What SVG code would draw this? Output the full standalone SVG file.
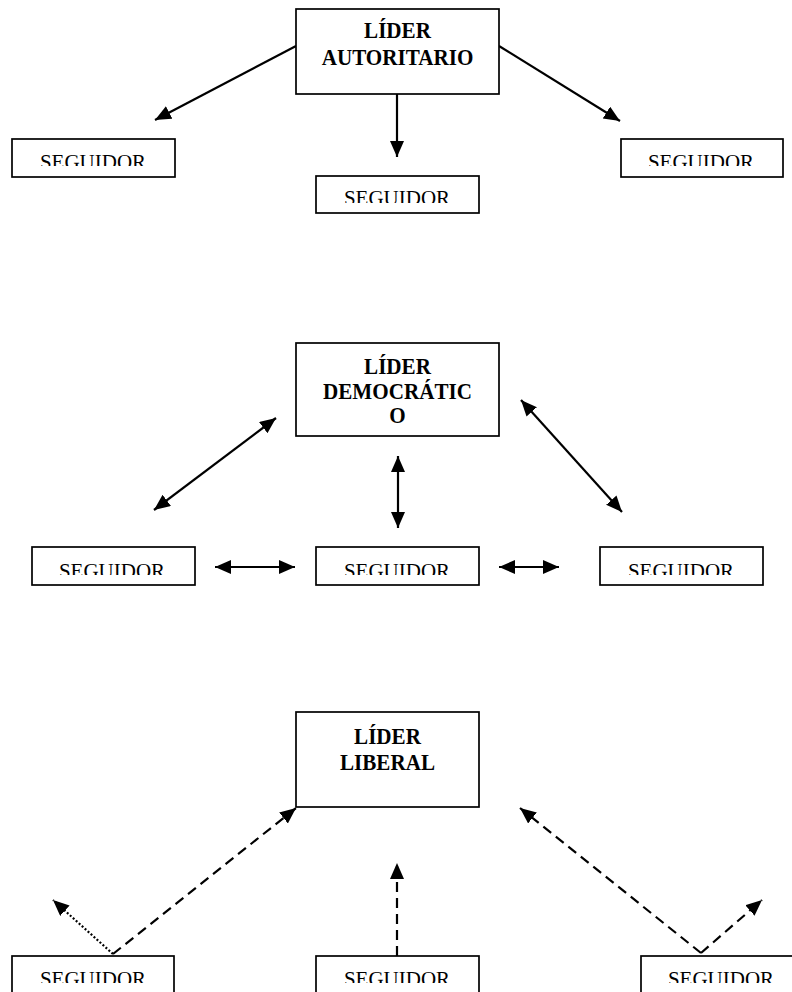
<svg xmlns="http://www.w3.org/2000/svg" width="792" height="992" viewBox="0 0 792 992">
<style>
.box{fill:#fff;stroke:#000;stroke-width:1.7}
.lead{font-family:"Liberation Serif",serif;font-weight:bold;font-size:22px;text-anchor:middle;fill:#000}
.seg{font-family:"Liberation Serif",serif;font-size:21px;text-anchor:middle;fill:#000}
.ln{stroke:#000;stroke-width:2.2;fill:none}
.dash{stroke-dasharray:10 6}
.dot{stroke-dasharray:2 2}
</style>
<defs>
<marker id="ah" markerUnits="userSpaceOnUse" markerWidth="17" markerHeight="15" refX="16" refY="7" orient="auto-start-reverse" viewBox="0 0 17 15">
<path d="M0,0 L16,7 L0,14 z" fill="#000"/>
</marker>
<clipPath id="c1"><rect x="12" y="139" width="163" height="27"/></clipPath>
<clipPath id="c2"><rect x="316" y="176" width="163" height="27"/></clipPath>
<clipPath id="c3"><rect x="621" y="139" width="162" height="27"/></clipPath>
<clipPath id="c4"><rect x="32" y="547" width="163" height="28"/></clipPath>
<clipPath id="c5"><rect x="316" y="547" width="163" height="28"/></clipPath>
<clipPath id="c6"><rect x="600" y="547" width="163" height="28"/></clipPath>
<clipPath id="c7"><rect x="12" y="956" width="162" height="27"/></clipPath>
<clipPath id="c8"><rect x="316" y="956" width="163" height="27"/></clipPath>
<clipPath id="c9"><rect x="641" y="956" width="163" height="27"/></clipPath>
</defs>
<rect width="792" height="992" fill="#fff"/>

<g id="connectors">
<line class="ln" x1="296" y1="46" x2="155" y2="120" marker-end="url(#ah)"/>
<line class="ln" x1="499" y1="46" x2="620" y2="121" marker-end="url(#ah)"/>
<line class="ln" x1="397" y1="83" x2="397" y2="157" marker-end="url(#ah)"/>

<line class="ln" x1="154" y1="510" x2="276" y2="418" marker-start="url(#ah)" marker-end="url(#ah)"/>
<line class="ln" x1="398" y1="456" x2="398" y2="528" marker-start="url(#ah)" marker-end="url(#ah)"/>
<line class="ln" x1="521" y1="400" x2="622" y2="512" marker-start="url(#ah)" marker-end="url(#ah)"/>
<line class="ln" x1="215" y1="567" x2="295" y2="567" marker-start="url(#ah)" marker-end="url(#ah)"/>
<line class="ln" x1="499" y1="567" x2="559" y2="567" marker-start="url(#ah)" marker-end="url(#ah)"/>

<line class="ln dash" x1="113" y1="954" x2="296" y2="808" marker-end="url(#ah)"/>
<line class="ln dot" x1="113" y1="954" x2="53" y2="900" marker-end="url(#ah)"/>
<line class="ln dash" x1="397" y1="956" x2="397" y2="863" marker-end="url(#ah)"/>
<line class="ln dash" x1="701" y1="953" x2="520" y2="808" marker-end="url(#ah)"/>
<line class="ln dash" x1="701" y1="953" x2="762" y2="900" marker-end="url(#ah)"/>
</g>

<g id="lider-autoritario">
<rect class="box" x="296" y="9" width="203" height="85"/>
<text class="lead" transform="translate(397.5,38) scale(0.96,1.06)">LÍDER</text>
<text class="lead" transform="translate(397.5,65) scale(0.96,1.06)">AUTORITARIO</text>
</g>
<g id="seg-a1">
<rect class="box" x="12" y="139" width="163" height="38"/>
<text class="seg" x="93" y="169" clip-path="url(#c1)">SEGUIDOR</text>
</g>
<g id="seg-a2">
<rect class="box" x="316" y="176" width="163" height="37"/>
<text class="seg" x="397" y="205" clip-path="url(#c2)">SEGUIDOR</text>
</g>
<g id="seg-a3">
<rect class="box" x="621" y="139" width="162" height="38"/>
<text class="seg" x="701" y="169" clip-path="url(#c3)">SEGUIDOR</text>
</g>

<g id="lider-democratico">
<rect class="box" x="296" y="343" width="203" height="93"/>
<text class="lead" transform="translate(397.5,374) scale(0.96,1.06)">LÍDER</text>
<text class="lead" transform="translate(397.5,399) scale(0.96,1.06)">DEMOCRÁTIC</text>
<text class="lead" transform="translate(397.5,423) scale(0.96,1.06)">O</text>
</g>
<g id="seg-d1">
<rect class="box" x="32" y="547" width="163" height="38"/>
<text class="seg" x="112" y="578" clip-path="url(#c4)">SEGUIDOR</text>
</g>
<g id="seg-d2">
<rect class="box" x="316" y="547" width="163" height="38"/>
<text class="seg" x="397" y="578" clip-path="url(#c5)">SEGUIDOR</text>
</g>
<g id="seg-d3">
<rect class="box" x="600" y="547" width="163" height="38"/>
<text class="seg" x="681" y="578" clip-path="url(#c6)">SEGUIDOR</text>
</g>

<g id="lider-liberal">
<rect class="box" x="296" y="712" width="183" height="95"/>
<text class="lead" transform="translate(387.5,744) scale(0.96,1.06)">LÍDER</text>
<text class="lead" transform="translate(387.5,770) scale(0.96,1.06)">LIBERAL</text>
</g>
<g id="seg-l1">
<rect class="box" x="12" y="956" width="162" height="50"/>
<text class="seg" x="93" y="986" clip-path="url(#c7)">SEGUIDOR</text>
</g>
<g id="seg-l2">
<rect class="box" x="316" y="956" width="163" height="50"/>
<text class="seg" x="397" y="986" clip-path="url(#c8)">SEGUIDOR</text>
</g>
<g id="seg-l3">
<rect class="box" x="641" y="956" width="163" height="50"/>
<text class="seg" x="721" y="986" clip-path="url(#c9)">SEGUIDOR</text>
</g>
</svg>
